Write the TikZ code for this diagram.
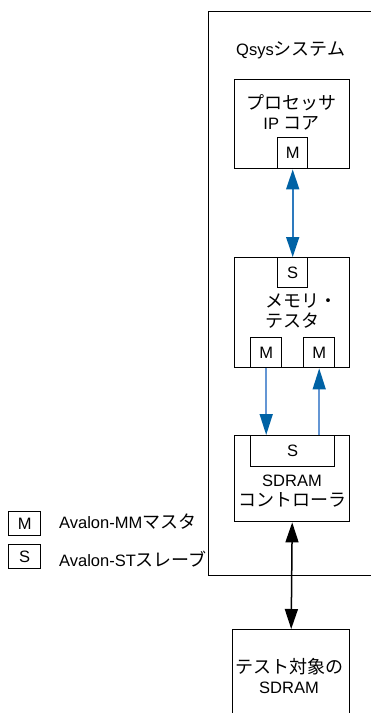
\documentclass[tikz,border=0pt]{standalone}
\usepackage{fontspec}
\setmainfont{Liberation Sans}
\newfontfamily\jpfont{Noto Sans CJK JP}
\usetikzlibrary{arrows.meta}
\newcommand\jp[1]{{\jpfont\fontsize{18}{20}\selectfont #1}}
\definecolor{linkline}{RGB}{45,122,190}
\definecolor{linklight}{RGB}{100,150,212}
\definecolor{linkhead}{RGB}{0,98,165}
\tikzset{
  blk/.style={draw=black, line width=1.4pt, rectangle, inner sep=0pt, anchor=north west},
  lbl/.style={inner sep=0pt, font=\fontsize{16.5}{20}\selectfont},
  bluelink/.style={draw=linklight, line width=1.5pt,
    arrows={-Triangle[length=21pt,width=13pt,color=linkhead]}},
  bluebi/.style={draw=linkline, line width=1.6pt,
    arrows={Triangle[length=20pt,width=13pt,color=linkhead]-Triangle[length=20pt,width=13pt,color=linkhead]}},
  blackbi/.style={draw=black, line width=1.5pt,
    arrows={Triangle[length=20pt,width=13pt]-Triangle[length=20pt,width=13pt]}},
}
\begin{document}
\begin{tikzpicture}[x=1pt,y=-1pt]
\useasboundingbox (0,0) rectangle (370,713);

% Qsys system frame
\node[blk, minimum width=182pt, minimum height=564pt] (qsys) at (208,11) {};
\node[lbl, anchor=west] (qsyslbl) at (236,50) {Qsys\jp{システム}};

% processor IP core
\node[blk, minimum width=115pt, minimum height=89pt] (proc) at (234,79) {};
\node[lbl, align=center] (proclbl) at (291.5,112) {\jp{プロセッサ}\\IP \jp{コア}};
\node[blk, minimum width=30pt, minimum height=31pt] (procM) at (277,137) {};
\node[lbl] at (procM.center) {M};

% memory tester
\node[blk, minimum width=115pt, minimum height=110pt] (mem) at (234,257) {};
\node[blk, minimum width=30pt, minimum height=30pt] (memS) at (277,257) {};
\node[lbl] at (memS.center) {S};
\node[lbl, align=left, anchor=west] (memlbl) at (265,311.5) {\jp{メモリ・}\\\jp{テスタ}};
\node[blk, minimum width=31pt, minimum height=30pt] (memMa) at (250,337) {};
\node[lbl] at (memMa.center) {M};
\node[blk, minimum width=31pt, minimum height=30pt] (memMb) at (303,337) {};
\node[lbl] at (memMb.center) {M};

% SDRAM controller
\node[blk, minimum width=115pt, minimum height=86pt] (ctrl) at (234,435) {};
\node[blk, minimum width=84pt, minimum height=31pt] (ctrlS) at (250,435) {};
\node[lbl] at (ctrlS.center) {S};
\node[lbl, align=center] (ctrllbl) at (292,491) {SDRAM\\\jp{コントローラ}};

% SDRAM under test
\node[blk, minimum width=117pt, minimum height=95pt] (sdram) at (232,629) {};
\node[lbl, align=center] (sdramlbl) at (289,676) {\jp{テスト対象の}\\SDRAM};

% legend
\node[blk, minimum width=32pt, minimum height=24pt] (legM) at (8,511) {};
\node[lbl] at (legM.center) {M};
\node[lbl, anchor=west] (legMtxt) at (59,522) {Avalon-MM\jp{マスタ}};
\node[blk, minimum width=32pt, minimum height=24pt] (legS) at (8,544) {};
\node[lbl] at (legS.center) {S};
\node[lbl, anchor=west] (legStxt) at (59,559) {Avalon-ST\jp{スレーブ}};

% connections
\draw[bluebi] (procM.south) -- (memS.north);
\draw[bluelink] (memMa.south) -- (memMa.south |- ctrlS.north);
\draw[bluelink] (memMb.south |- ctrlS.north) -- (memMb.south);
\draw[blackbi] (ctrl.south) -- (sdram.north);
\end{tikzpicture}
\end{document}
